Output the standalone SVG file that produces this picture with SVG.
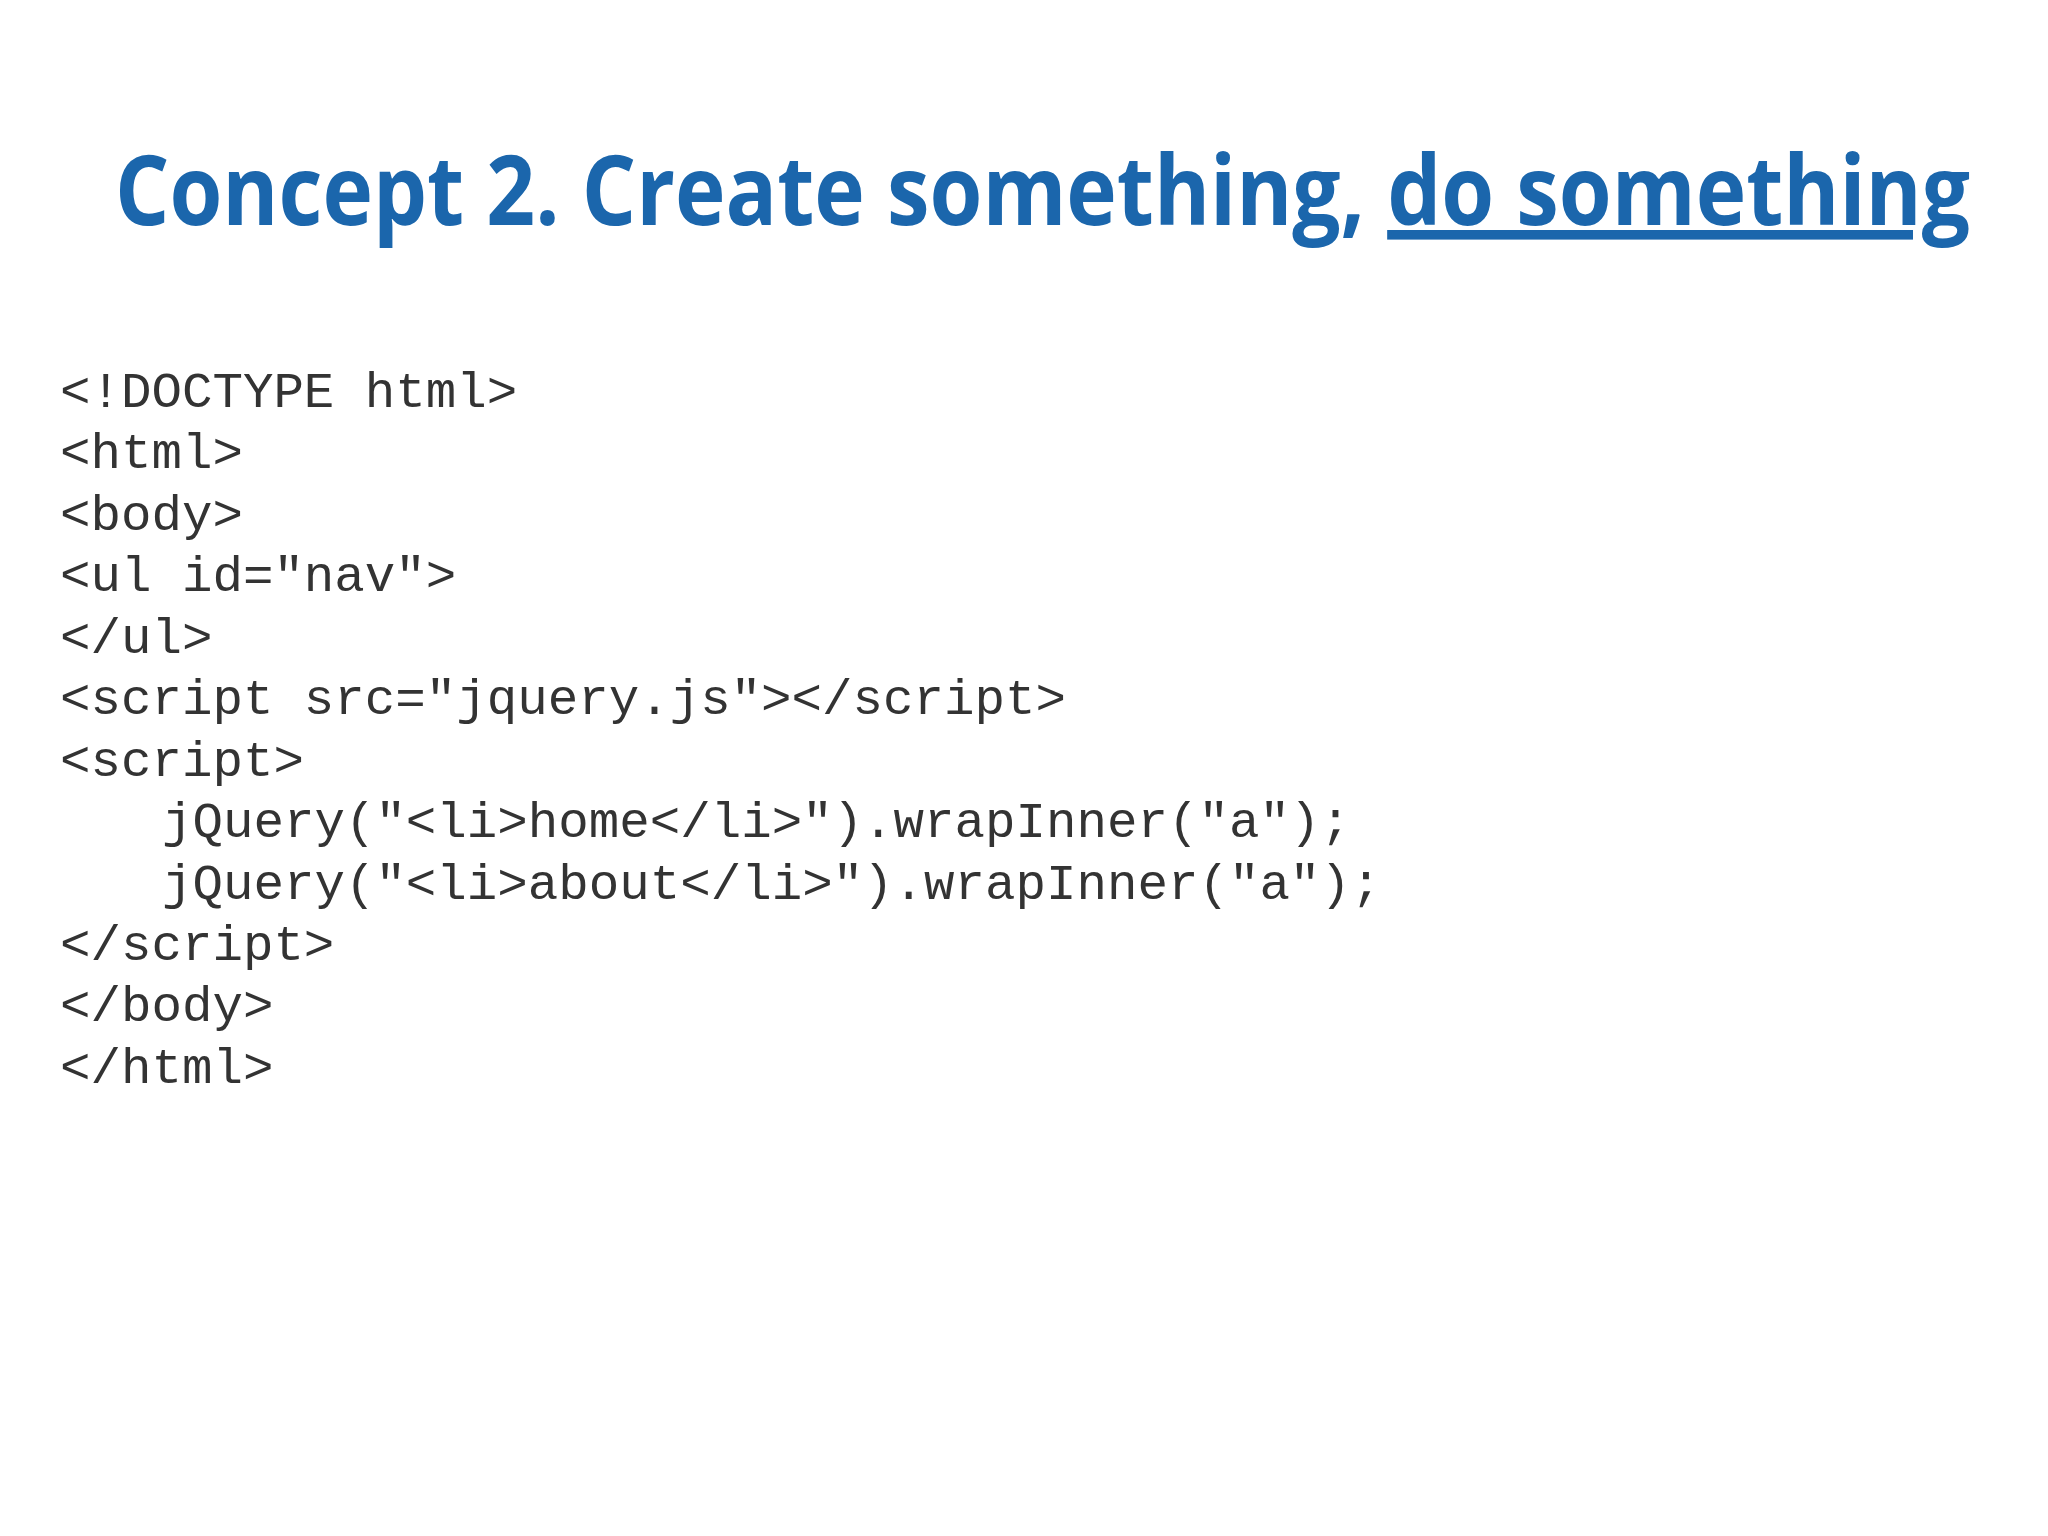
<svg xmlns="http://www.w3.org/2000/svg" width="2048" height="1536" viewBox="0 0 2048 1536">
<style>
.t{font-family:"Open Sans","Liberation Sans",sans-serif;font-weight:bold;font-size:96px;fill:#1B66AC}
.c{font-family:"Liberation Mono","Courier New",monospace;font-size:50.8px;fill:#333}
</style>
<rect width="2048" height="1536" fill="#fff"/>
<g id="title">
<text class="t" x="115" y="225" textLength="1855" lengthAdjust="spacingAndGlyphs">Concept 2. Create something, <tspan text-decoration="underline">do something</tspan></text>
</g>
<g id="code">
<text class="c" x="60" y="407">&lt;!DOCTYPE html&gt;</text>
<text class="c" x="60" y="468">&lt;html&gt;</text>
<text class="c" x="60" y="530">&lt;body&gt;</text>
<text class="c" x="60" y="591">&lt;ul id="nav"&gt;</text>
<text class="c" x="60" y="653">&lt;/ul&gt;</text>
<text class="c" x="60" y="714">&lt;script src="jquery.js"&gt;&lt;/script&gt;</text>
<text class="c" x="60" y="776">&lt;script&gt;</text>
<text class="c" x="162" y="837">jQuery("&lt;li&gt;home&lt;/li&gt;").wrapInner("a");</text>
<text class="c" x="162" y="899">jQuery("&lt;li&gt;about&lt;/li&gt;").wrapInner("a");</text>
<text class="c" x="60" y="960">&lt;/script&gt;</text>
<text class="c" x="60" y="1021">&lt;/body&gt;</text>
<text class="c" x="60" y="1083">&lt;/html&gt;</text>
</g>
</svg>
